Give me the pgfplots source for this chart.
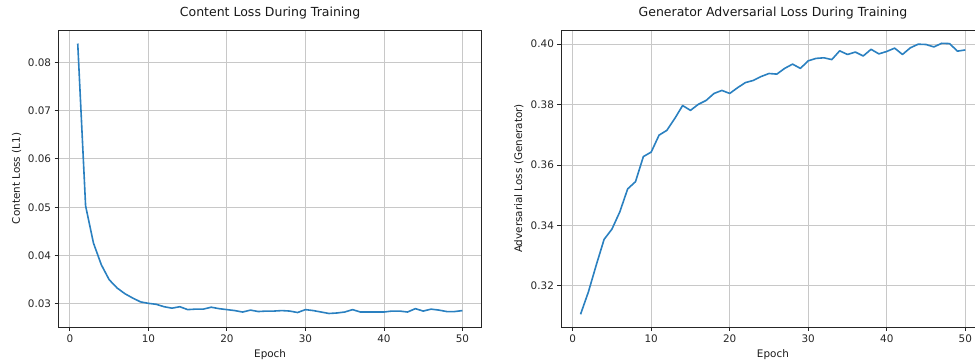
\documentclass[border=0pt]{standalone}
\usepackage{pgfplots}
\pgfplotsset{compat=1.18}
\usepackage{fontspec}
\setmainfont{DejaVu Sans}
\definecolor{lc}{HTML}{2A80C0}
\definecolor{gridc}{HTML}{C8C8C8}
\pgfplotsset{
 myax/.style={
  scale only axis, width=423.2pt, height=297pt, anchor=south west,
  xmin=-1.45, xmax=52.45, xtick={0,10,20,30,40,50},
  scaled y ticks=false, scaled x ticks=false,
  tick pos=left,
  tick align=outside, major tick length=3.9pt,
  tick style={black!85, line width=0.9pt},
  axis line style={black!85, line width=0.9pt},
  grid=major, grid style={gridc, line width=0.9pt},
  /pgf/number format/assume math mode=true,
  ticklabel style={font=\fontsize{10.4}{12}\selectfont, text=black!85},
  yticklabel style={/pgf/number format/.cd, fixed, fixed zerofill, precision=2},
  label style={font=\fontsize{10.4}{12}\selectfont, text=black!90},
  title style={font=\fontsize{12.5}{15}\selectfont, at={(axis description cs:0.5,1.0236)}, anchor=base, text=black!90},
  xlabel style={at={(axis description cs:0.5,-0.101)}, anchor=base},
  ylabel style={at={(axis description cs:-0.0992,0.5)}, anchor=center},
 }
}
\pgfplotstableread{
x y
1 0.0839
2 0.0503
3 0.0426
4 0.0381
5 0.0350
6 0.0333
7 0.0321
8 0.0312
9 0.0304
10 0.0301
11 0.0299
12 0.0294
13 0.0291
14 0.0294
15 0.0288
16 0.0289
17 0.0289
18 0.0293
19 0.0290
20 0.0288
21 0.0286
22 0.0283
23 0.0287
24 0.0284
25 0.0285
26 0.0285
27 0.0286
28 0.0285
29 0.0282
30 0.0288
31 0.0286
32 0.0283
33 0.0280
34 0.0281
35 0.0283
36 0.0288
37 0.0283
38 0.0283
39 0.0283
40 0.0283
41 0.0285
42 0.0285
43 0.0283
44 0.0290
45 0.0285
46 0.0289
47 0.0287
48 0.0284
49 0.0284
50 0.0286
}\contentloss
\pgfplotstableread{
x y
1 0.3106
2 0.3180
3 0.3269
4 0.3354
5 0.3388
6 0.3445
7 0.3521
8 0.3545
9 0.3628
10 0.3643
11 0.3699
12 0.3715
13 0.3754
14 0.3797
15 0.3781
16 0.3801
17 0.3814
18 0.3837
19 0.3847
20 0.3837
21 0.3856
22 0.3873
23 0.3880
24 0.3893
25 0.3903
26 0.3901
27 0.3920
28 0.3934
29 0.3920
30 0.3945
31 0.3953
32 0.3955
33 0.3949
34 0.3978
35 0.3966
36 0.3974
37 0.3961
38 0.3983
39 0.3968
40 0.3976
41 0.3987
42 0.3966
43 0.3988
44 0.4000
45 0.3999
46 0.3991
47 0.4003
48 0.4002
49 0.3977
50 0.3981
}\advloss
\begin{document}
\begin{tikzpicture}
\useasboundingbox (0pt,0pt) rectangle (975pt,360pt);
\clip (0pt,0pt) rectangle (975pt,360pt);
\begin{axis}[myax, at={(58.5pt,33pt)},
  ymin=0.0252, ymax=0.0867,
  ytick={0.03,0.04,0.05,0.06,0.07,0.08},
  title={Content Loss During Training},
  xlabel={Epoch}, ylabel={Content Loss (L1)}]
\addplot[lc, line width=1.6pt, no markers, line join=round] table[x=x,y=y] {\contentloss};
\end{axis}
\begin{axis}[myax, at={(561.3pt,33pt)},
  ymin=0.3064, ymax=0.4047,
  ytick={0.32,0.34,0.36,0.38,0.40},
  title={Generator Adversarial Loss During Training},
  xlabel={Epoch}, ylabel={Adversarial Loss (Generator)},
  ylabel style={at={(axis description cs:-0.1004,0.5)}}]
\addplot[lc, line width=1.6pt, no markers, line join=round] table[x=x,y=y] {\advloss};
\end{axis}
\end{tikzpicture}
\end{document}
